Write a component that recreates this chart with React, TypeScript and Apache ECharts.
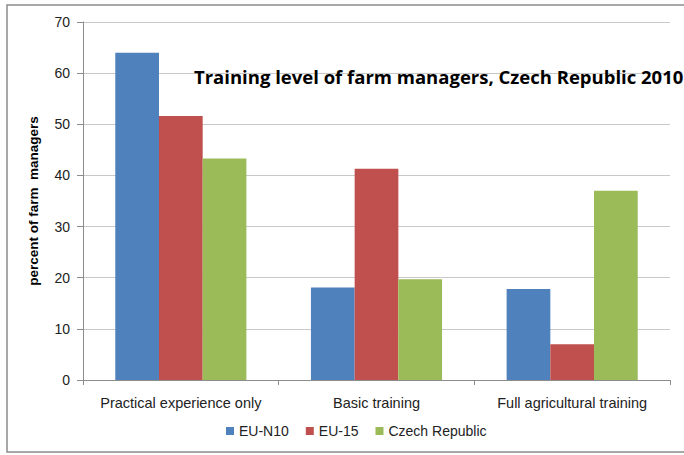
import React, { useEffect, useRef } from "react";
import * as echarts from "echarts";

const categories = ["Practical experience only", "Basic training", "Full agricultural training"];
const euN10 = [64.0, 18.1, 17.8];
const eu15 = [51.6, 41.3, 7.0];
const czech = [43.3, 19.7, 37.0];
const seriesNames = ["EU-N10", "EU-15", "Czech Republic"];
const titleText = "Training level of farm managers, Czech Republic 2010";
const yAxisName = "percent of farm  managers";

export default function App() {
  const ref = useRef<HTMLDivElement>(null);
  useEffect(() => {
    if (!ref.current) return;
    const chart = echarts.init(ref.current, null, { renderer: "svg" });
    const font = "'Liberation Sans', Arial, sans-serif";
    chart.setOption({
      animation: false,
      backgroundColor: "#ffffff",
      textStyle: { fontFamily: font },
      title: {
        text: titleText,
        left: 189,
        top: 62,
        textStyle: { fontFamily: "'Open Sans', sans-serif", fontWeight: "bold", fontSize: 18.5, color: "#000" },
      },
      graphic: [
        {
          type: "rect",
          shape: { x: 7, y: 5, width: 700, height: 447 },
          style: { fill: "none", stroke: "#8c8c8c", lineWidth: 1.5 },
          silent: true,
        },
      ],
      legend: {
        data: seriesNames,
        bottom: 12,
        left: 221,
        itemWidth: 8,
        itemHeight: 8,
        itemGap: 17,
        icon: "rect",
        textStyle: { fontSize: 14, color: "#222", fontFamily: font },
      },
      grid: { left: 83, right: 14, top: 22, bottom: 75, containLabel: false },
      xAxis: {
        type: "category",
        data: categories,
        axisLine: { lineStyle: { color: "#8c8c8c" } },
        axisTick: { show: true, length: 5, lineStyle: { color: "#8c8c8c" } },
        axisLabel: { fontSize: 14.5, color: "#222", margin: 15, fontFamily: font, interval: 0, hideOverlap: false },
      },
      yAxis: {
        type: "value",
        min: 0,
        max: 70,
        interval: 10,
        name: yAxisName,
        nameLocation: "middle",
        nameGap: 43,
        nameTextStyle: { fontSize: 13.5, fontWeight: "bold", color: "#000", fontFamily: font },
        axisLine: { show: true, lineStyle: { color: "#8c8c8c" } },
        axisTick: { show: true, length: 6, lineStyle: { color: "#8c8c8c" } },
        axisLabel: { fontSize: 14, color: "#222", margin: 13, fontFamily: font },
        splitLine: { lineStyle: { color: "#c8c8c8" } },
      },
      series: [
        { name: seriesNames[0], type: "bar", data: euN10, itemStyle: { color: "#4f81bd" }, barGap: "0%", barCategoryGap: "33%" },
        { name: seriesNames[1], type: "bar", data: eu15, itemStyle: { color: "#c0504d" }, barGap: "0%", barCategoryGap: "33%" },
        { name: seriesNames[2], type: "bar", data: czech, itemStyle: { color: "#9bbb59" }, barGap: "0%", barCategoryGap: "33%" },
      ],
    });
    return () => chart.dispose();
  }, []);
  return (
    <div
      ref={ref}
      style={{ position: "fixed", left: 0, top: 0, width: 684, height: 455 }}
    />
  );
}
